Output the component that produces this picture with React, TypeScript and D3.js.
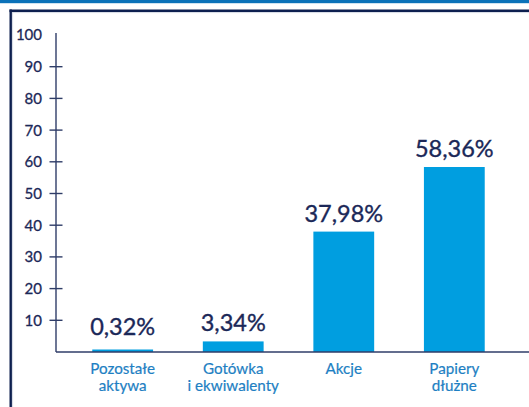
import React from "react";
import * as d3 from "d3";

const categories: string[][] = [
  ["Pozostałe", "aktywa"],
  ["Gotówka", "i ekwiwalenty"],
  ["Akcje"],
  ["Papiery", "dłużne"],
];
const values: number[] = [0.32, 3.34, 37.98, 58.36];
const valueLabels: string[] = ["0,32%", "3,34%", "37,98%", "58,36%"];
const yTicks: number[] = [10, 20, 30, 40, 50, 60, 70, 80, 90];
const yTopLabel = 100;

const W = 529;
const H = 407;
const NAVY = "#1b2858";
const AXIS = "#2f3d68";
const BAR = "#009ee0";
const CAT = "#1e7fc3";
const FONT = "Lato, 'Open Sans', sans-serif";

export default function App() {
  const x0 = 56;
  const yBase = 352;
  const y = d3.scaleLinear().domain([0, 100]).range([yBase, 35]);
  const x = d3
    .scaleBand<number>()
    .domain(values.map((_, i) => i))
    .range([37, 540])
    .paddingInner(0.45)
    .paddingOuter(0.5);

  return (
    <div style={{ position: "fixed", left: 0, top: 0 }}>
      <svg width={W} height={H} style={{ display: "block", background: "#fff" }}>
        {/* top band */}
        <rect x={0} y={0} width={W} height={3.2} fill="#0b72b9" />
        {/* frame */}
        <line x1={9.5} x2={W} y1={10.7} y2={10.7} stroke="#0d1f4f" strokeWidth={2.4} />
        <line x1={9.5} x2={W} y1={12.6} y2={12.6} stroke="#c9cfdc" strokeWidth={0.8} />
        <line x1={10.7} x2={10.7} y1={9.5} y2={H} stroke="#0d1f4f" strokeWidth={2.4} />
        <line x1={12.6} x2={12.6} y1={12} y2={H} stroke="#c9cfdc" strokeWidth={0.8} />

        {/* bars */}
        {values.map((v, i) => {
          const top = Math.min(y(v), yBase - 2.5);
          return (
            <rect
              key={i}
              x={x(i)!}
              y={top}
              width={x.bandwidth()}
              height={yBase - top}
              fill={BAR}
            />
          );
        })}

        {/* value labels */}
        {values.map((v, i) => {
          const top = Math.min(y(v) - 10, yBase - 17);
          return (
            <text
              key={i}
              x={x(i)! + x.bandwidth() / 2}
              y={top}
              textAnchor="middle"
              fontFamily={FONT}
              fontSize={23.5}
              fill={NAVY}
              stroke={NAVY}
              strokeWidth={0.35}
            >
              {valueLabels[i]}
            </text>
          );
        })}

        {/* y axis */}
        <line x1={x0} x2={x0} y1={33} y2={yBase} stroke={AXIS} strokeWidth={1.4} />
        {yTicks.map((t) => (
          <g key={t}>
            <line x1={x0 - 6.5} x2={x0 + 6.5} y1={y(t)} y2={y(t)} stroke={AXIS} strokeWidth={1.4} />
            <text
              x={42}
              y={y(t)}
              dy="0.36em"
              textAnchor="end"
              fontFamily={FONT}
              fontSize={15}
              fill={NAVY}
              stroke={NAVY}
              strokeWidth={0.3}
            >
              {t}
            </text>
          </g>
        ))}
        <text
          x={42}
          y={y(yTopLabel)}
          dy="0.36em"
          textAnchor="end"
          fontFamily={FONT}
          fontSize={15}
          fill={NAVY}
          stroke={NAVY}
          strokeWidth={0.3}
        >
          {yTopLabel}
        </text>

        {/* baseline */}
        <line x1={x0} x2={W} y1={yBase} y2={yBase} stroke={AXIS} strokeWidth={1.4} />

        {/* category labels */}
        {categories.map((lines, i) =>
          lines.map((l, j) => (
            <text
              key={`${i}-${j}`}
              x={x(i)! + x.bandwidth() / 2}
              y={374 + j * 16.5}
              textAnchor="middle"
              fontFamily={FONT}
              fontSize={15.2}
              fill={CAT}
              stroke={CAT}
              strokeWidth={0.2}
            >
              {l}
            </text>
          ))
        )}
      </svg>
    </div>
  );
}
